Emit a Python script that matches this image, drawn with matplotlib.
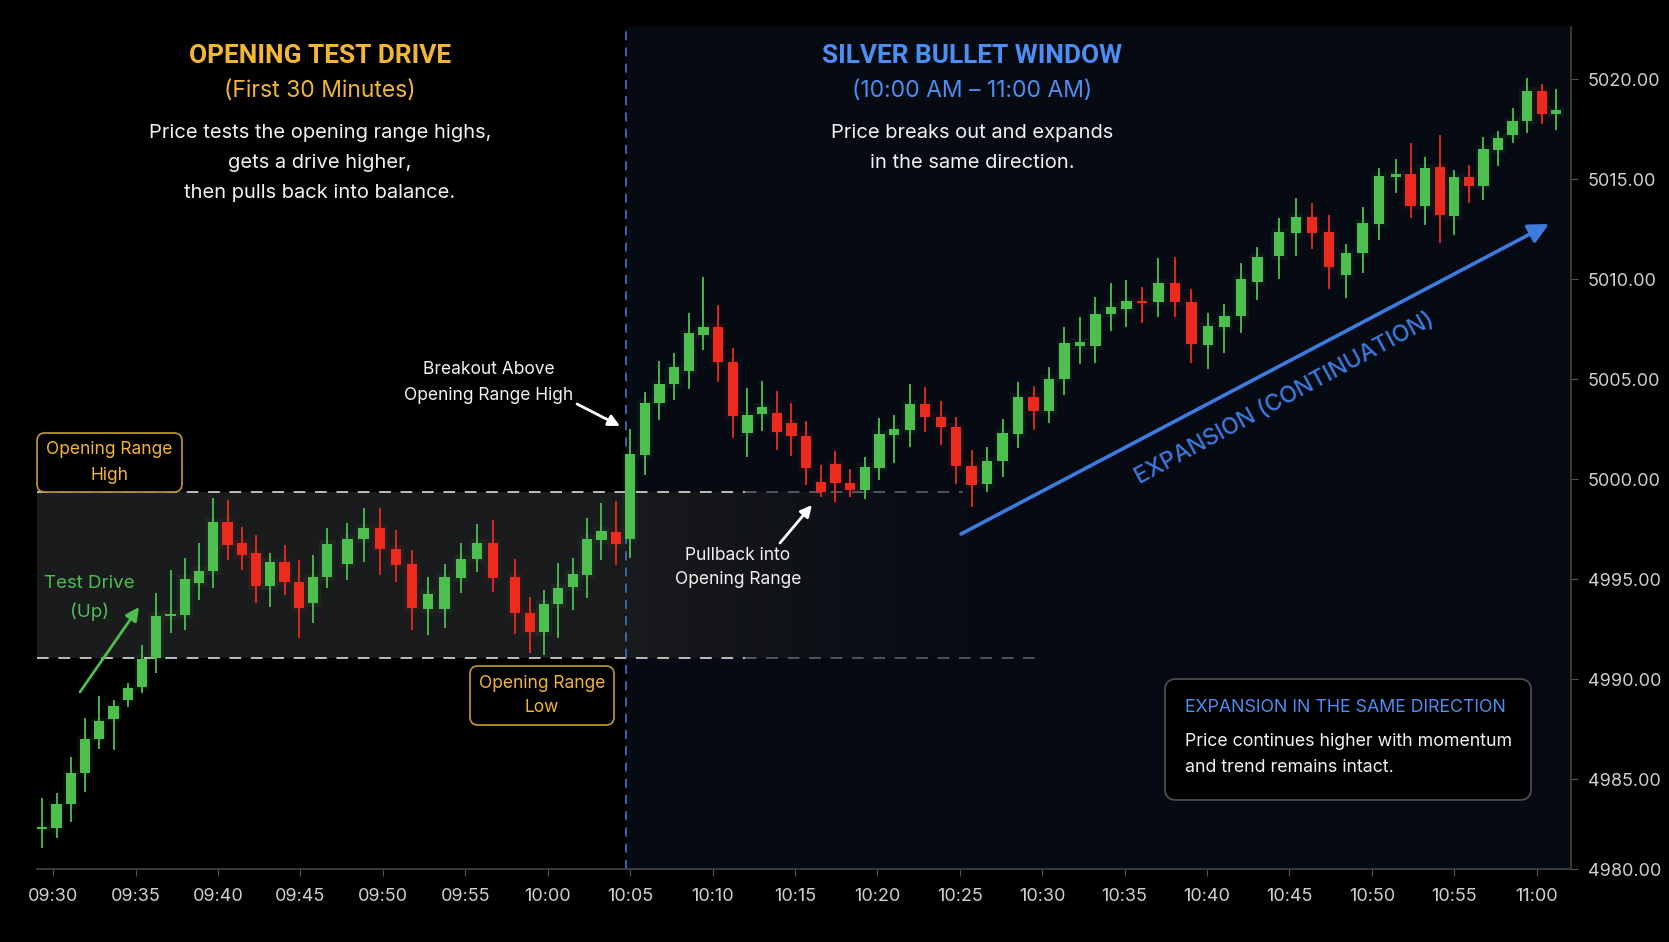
import matplotlib
matplotlib.use("Agg")
import numpy as np
import matplotlib.pyplot as plt
from matplotlib.patches import FancyBboxPatch
from matplotlib.transforms import IdentityTransform

# ---------------- data ----------------
opens = [
    4982.5, 4982.57, 4983.73, 4985.28, 4987.02, 4988.0, 4988.95, 4989.62, 4991.03, 4993.15,
    4993.2, 4994.78, 4995.42, 4997.87, 4996.82, 4996.28, 4994.65, 4995.85, 4994.87, 4993.82,
    4995.12, 4995.77, 4997.0, 4997.53, 4996.5, 4995.73, 4993.48, 4993.52, 4995.05, 4995.98,
    4996.82, 4995.08, 4993.32, 4992.35, 4993.75, 4994.58, 4995.2, 4996.95, 4997.37, 4997.0,
    5001.2, 5003.78, 5004.75, 5005.42, 5007.18, 5007.58, 5005.87, 5002.28, 5003.23, 5003.3,
    5002.78, 5002.17, 4999.83, 5000.73, 4999.82, 4999.45, 5000.53, 5002.2,
    5002.45, 5003.75, 5003.12, 5002.58, 5000.67, 4999.73, 5000.9, 5002.25, 5004.12, 5003.4,
    5004.98, 5006.67, 5006.67, 5008.23, 5008.5, 5008.92,
    5008.87, 5009.78, 5008.83, 5006.7, 5007.58, 5008.15, 5009.87, 5011.15, 5012.32, 5013.12,
    5012.37, 5010.2, 5011.28, 5012.75, 5015.1,
    5015.25, 5013.65, 5015.58, 5013.17, 5015.08, 5014.65, 5016.45, 5017.2, 5017.9, 5019.42, 5018.25]
closes = [
    4982.6, 4983.73, 4985.28, 4987.02, 4987.9, 4988.65, 4989.57, 4991.02, 4993.15, 4993.2,
    4995.02, 4995.42, 4997.87, 4996.7, 4996.2, 4994.65, 4995.85, 4994.87, 4993.53, 4995.12,
    4996.73, 4997.02, 4997.53, 4996.48, 4995.7, 4993.53, 4994.23, 4995.08, 4996.02, 4996.82,
    4995.07, 4993.28, 4992.35, 4993.75, 4994.57, 4995.23, 4997.0, 4997.4, 4996.75, 5001.25,
    5003.82, 5004.75, 5005.58, 5007.28, 5007.58, 5005.87, 5003.15, 5003.2, 5003.62, 5002.33,
    5002.17, 5000.53, 4999.37, 4999.78, 4999.45, 5000.62, 5002.25, 5002.5,
    5003.75, 5003.08, 5002.58, 5000.65, 4999.7, 5000.92, 5002.28, 5004.12, 5003.4, 5004.98,
    5006.78, 5006.83, 5008.23, 5008.58, 5008.92, 5008.78,
    5009.78, 5008.87, 5006.73, 5007.65, 5008.17, 5009.98, 5011.08, 5012.37, 5013.12, 5012.32,
    5010.62, 5011.28, 5012.78, 5015.15, 5015.25,
    5013.65, 5015.53, 5013.2, 5015.08, 5014.65, 5016.48, 5017.03, 5017.92, 5019.42, 5018.25, 5018.45]
highs = [
    4984.03, 4984.28, 4986.12, 4988.03, 4989.15, 4988.95, 4989.8, 4991.7, 4994.28, 4995.45,
    4996.03, 4996.82, 4999.03, 4998.95, 4997.62, 4997.2, 4996.28, 4996.7, 4995.95, 4996.2,
    4997.53, 4997.78, 4998.53, 4998.53, 4997.45, 4996.45, 4995.12, 4995.73, 4996.78, 4997.73,
    4997.95, 4995.98, 4994.12, 4994.45, 4995.78, 4996.07, 4998.03, 4998.82, 4998.92, 5002.48,
    5004.37, 5005.9, 5006.28, 5008.28, 5010.08, 5008.7, 5006.53, 5004.53, 5004.9, 5004.42,
    5003.82, 5002.9, 5000.7, 5001.4, 5000.48, 5001.08, 5003.03, 5003.2,
    5004.75, 5004.62, 5003.92, 5003.08, 5001.45, 5001.58, 5002.98, 5004.87, 5004.65, 5005.58,
    5007.62, 5008.12, 5009.08, 5009.78, 5009.95, 5009.62,
    5011.03, 5011.08, 5009.48, 5008.28, 5008.75, 5010.82, 5011.58, 5013.03, 5014.03, 5013.82,
    5013.2, 5011.75, 5013.62, 5015.53, 5015.98,
    5016.82, 5016.12, 5017.2, 5015.45, 5015.7, 5017.12, 5017.42, 5018.53, 5020.03, 5019.75, 5019.48]
lows = [
    4981.53, 4982.03, 4982.87, 4984.37, 4986.48, 4986.45, 4988.6, 4989.28, 4990.28, 4992.28,
    4992.45, 4993.95, 4994.53, 4995.95, 4995.45, 4993.78, 4993.62, 4994.2, 4992.03, 4992.78,
    4994.53, 4994.95, 4995.87, 4995.2, 4994.87, 4992.45, 4992.2, 4992.53, 4994.28, 4995.37,
    4994.37, 4992.25, 4991.28, 4991.2, 4992.03, 4993.45, 4994.03, 4995.95, 4995.7, 4996.03,
    5000.2, 5002.95, 5003.95, 5004.48, 5006.45, 5004.87, 5002.03, 5001.12, 5002.4, 5001.45,
    5001.15, 4999.7, 4999.08, 4998.83, 4999.08, 4998.98, 4999.95, 5000.78,
    5001.62, 5002.37, 5001.7, 4999.75, 4998.62, 4999.37, 5000.08, 5001.53, 5002.45, 5002.78,
    5004.2, 5005.75, 5005.78, 5007.42, 5007.62, 5007.78,
    5008.12, 5008.12, 5005.78, 5005.48, 5006.28, 5007.28, 5008.95, 5009.98, 5011.15, 5011.48,
    5009.48, 5009.03, 5010.32, 5011.95, 5014.28,
    5013.03, 5012.7, 5011.78, 5012.2, 5013.78, 5013.95, 5015.65, 5016.78, 5017.28, 5017.75, 5017.45]

# candle timing (minutes after 09:30) at anchor candles; others spaced evenly between
anchor_index = [0, 20, 21, 30, 31, 39, 57, 73, 80, 81, 88, 99]
anchor_minute = [-0.66, 16.63, 17.85, 26.69, 28.04, 35.0, 51.02, 66.05, 73.06, 74.36,
                 81.46, 91.19]

or_high = 4999.33
or_low = 4991.05
breakout_time = 34.76      # minutes after 09:30 (vertical marker)
x_tick_minutes = list(range(0, 91, 5))
x_tick_labels = ["09:30", "09:35", "09:40", "09:45", "09:50", "09:55", "10:00", "10:05",
                 "10:10", "10:15", "10:20", "10:25", "10:30", "10:35", "10:40", "10:45",
                 "10:50", "10:55", "11:00"]
y_tick_values = [4985, 4990, 4995, 5000, 5005, 5010, 5015, 5020]

# ---------------- figure ----------------
W, H = 1669, 942
GOLD = "#f2b635"
GOLD_EDGE = "#b48e32"
BLUE = "#4d8ef2"
GREEN = "#4cbf4f"
RED = "#ec2a1e"
TXT = "#f2f2f2"
TICK = "#cfcfcf"

fig = plt.figure(figsize=(W / 100, H / 100), dpi=100, facecolor="black")
ax = fig.add_axes([37 / W, 1 - 869 / H, (1571 - 37) / W, (869 - 27) / H])
ax.set_facecolor("black")

xmin, xmax = -0.98, 92.08
ymin, ymax = 4980.5, 5022.6

# navy tint for silver bullet window
ax.axvspan(breakout_time, xmax, color="#060a13", zorder=0, lw=0)

# opening range band with fade
xs = np.linspace(xmin, 58, 400)
alpha = np.clip((58 - xs) / (58 - 34), 0, 1) ** 1.2
band = np.zeros((1, len(xs), 4))
band[..., 0] = 0.105
band[..., 1] = 0.108
band[..., 2] = 0.115
band[..., 3] = alpha
ax.imshow(band, extent=[xmin, 58, or_low, or_high], aspect="auto", zorder=1,
          interpolation="bilinear")

# opening range lines
for yv, xend in [(or_high, 55.2), (or_low, 59.8)]:
    ax.plot([xmin, 42], [yv, yv], color="#dcdcdc", lw=1.4, dashes=(6, 5), alpha=0.85, zorder=2)
    ax.plot([42, xend], [yv, yv], color="#dcdcdc", lw=1.4, dashes=(6, 5), alpha=0.35, zorder=2)

# breakout vertical line
ax.axvline(breakout_time, color="#3c6cb8", lw=1.3, dashes=(5, 4), zorder=2)

# candles
o = np.array(opens); c = np.array(closes); h = np.array(highs); l = np.array(lows)
t = np.interp(np.arange(len(o)), anchor_index, anchor_minute)
cols = np.where(c >= o, GREEN, RED)
# soft glow
ax.bar(t, np.maximum(np.abs(c - o), 0.12) + 0.4, bottom=np.minimum(o, c) - 0.2, width=0.95,
       color=cols, alpha=0.07, lw=0, zorder=3)
ax.vlines(t, l, h, colors=cols, lw=1.3, zorder=3)
bottom = np.minimum(o, c)
height = np.maximum(np.abs(c - o), 0.12)
ax.bar(t, height, bottom=bottom, width=0.62, color=cols, lw=0, zorder=4)

ax.set_xlim(xmin, xmax)
ax.set_ylim(ymin, ymax)

# axes styling
for s in ["top", "left"]:
    ax.spines[s].set_visible(False)
for s in ["bottom", "right"]:
    ax.spines[s].set_color("#444444")
    ax.spines[s].set_linewidth(1.2)
ax.yaxis.tick_right()
ax.set_yticks([ymin] + y_tick_values)
ax.set_yticklabels(["4980.00"] + [f"{v:.2f}" for v in y_tick_values])
ax.set_xticks(x_tick_minutes)
ax.set_xticklabels(x_tick_labels)
ax.tick_params(axis="y", colors="#555555", labelcolor=TICK, labelsize=13, length=5, pad=7)
ax.tick_params(axis="x", colors="#555555", labelcolor=TICK, labelsize=13, length=5, pad=9)
for lab in ax.get_xticklabels() + ax.get_yticklabels():
    lab.set_fontfamily("Inter")

# ---------------- text helpers ----------------
ID = IdentityTransform()


def ftext(x, y, s, **kw):
    kw.setdefault("ha", "center")
    kw.setdefault("va", "center")
    kw.setdefault("family", "Inter")
    return fig.text(x, H - y, s, transform=ID, **kw)


def fbox(x0, y0, x1, y1, ec, r=8):
    p = FancyBboxPatch((x0, H - y1), x1 - x0, y1 - y0,
                       boxstyle=f"round,pad=0,rounding_size={r}",
                       transform=ID, fc="black", ec=ec, lw=1.3, zorder=5)
    fig.add_artist(p)


def farrow(x0, y0, x1, y1, color, lw, ms):
    ax.annotate("", xy=(x1, H - y1), xytext=(x0, H - y0),
                xycoords="figure pixels", textcoords="figure pixels",
                arrowprops=dict(arrowstyle="-|>", color=color, lw=lw,
                                mutation_scale=ms, shrinkA=0, shrinkB=0),
                zorder=6)


# headings
ftext(320, 56, "OPENING TEST DRIVE", color=GOLD, fontsize=18.9, family="Roboto",
      fontweight="bold")
ftext(320, 91, "(First 30 Minutes)", color=GOLD, fontsize=16.5)
ftext(320, 133, "Price tests the opening range highs,", color=TXT, fontsize=14.5)
ftext(320, 163, "gets a drive higher,", color=TXT, fontsize=14.5)
ftext(320, 193, "then pulls back into balance.", color=TXT, fontsize=14.5)

ftext(972, 56, "SILVER BULLET WINDOW", color=BLUE, fontsize=18.9, family="Roboto",
      fontweight="bold")
ftext(972, 91, "(10:00 AM \u2013 11:00 AM)", color=BLUE, fontsize=16.5)
ftext(972, 133, "Price breaks out and expands", color=TXT, fontsize=14.5)
ftext(972, 163, "in the same direction.", color=TXT, fontsize=14.5)

# opening range boxes
fbox(37, 433, 182, 492, GOLD_EDGE)
ftext(109, 450, "Opening Range", color=GOLD, fontsize=12.5, zorder=7)
ftext(109, 475, "High", color=GOLD, fontsize=12.5, zorder=7)

fbox(470, 666, 614, 725, GOLD_EDGE)
ftext(542, 683, "Opening Range", color=GOLD, fontsize=12.5, zorder=7)
ftext(542, 708, "Low", color=GOLD, fontsize=12.5, zorder=7)

# test drive
ftext(89, 584, "Test Drive", color=GREEN, fontsize=13.5)
ftext(89, 612, "(Up)", color=GREEN, fontsize=13.5)
farrow(80, 692, 139, 607, GREEN, 2.0, 20)

# breakout annotation
ftext(489, 369, "Breakout Above", color=TXT, fontsize=12.5)
ftext(489, 395, "Opening Range High", color=TXT, fontsize=12.5)
farrow(577, 404, 620, 426, "white", 2.0, 17)

# pullback annotation
ftext(738, 555, "Pullback into", color=TXT, fontsize=12.5)
ftext(738, 580, "Opening Range", color=TXT, fontsize=12.5)
farrow(780, 543, 812, 505, "white", 2.0, 17)

# expansion arrow + label
farrow(961, 534, 1549, 224, "#3d7be0", 2.6, 30)
ftext(1285, 399, "EXPANSION (CONTINUATION)", color="#3d7be0", fontsize=16.5,
      rotation=28.5, rotation_mode="anchor", fontweight="medium")

# bottom right box
fbox(1165, 679, 1531, 800, "#4d4d4d", r=11)
ftext(1185, 708, "EXPANSION IN THE SAME DIRECTION", color=BLUE, fontsize=12.8, ha="left",
      zorder=7)
ftext(1185, 741, "Price continues higher with momentum", color=TXT, fontsize=12.8,
      ha="left", zorder=7)
ftext(1185, 768, "and trend remains intact.", color=TXT, fontsize=12.8, ha="left", zorder=7)

fig.savefig("out.png", dpi=100, facecolor="black")
